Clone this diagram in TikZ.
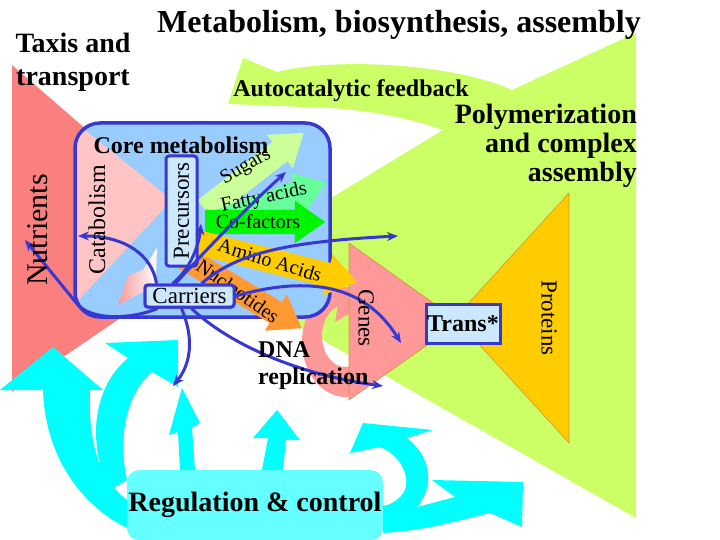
\documentclass[tikz,border=0pt]{standalone}
\usepackage{fontspec}
\setmainfont{Liberation Serif}[BoldFont={Liberation Serif Bold}, ItalicFont={Liberation Serif Italic}]
\usepackage{tikz}
\usetikzlibrary{shapes.arrows}
\usetikzlibrary{arrows.meta}

\definecolor{leaf}{RGB}{204,255,102}
\definecolor{nutred}{RGB}{250,128,128}
\definecolor{catpink}{RGB}{255,196,196}
\definecolor{corebl}{RGB}{153,204,255}
\definecolor{boxfill}{RGB}{204,232,255}
\definecolor{blueln}{RGB}{55,55,210}
\definecolor{genepink}{RGB}{255,153,153}
\definecolor{protor}{RGB}{255,204,0}
\definecolor{sugar}{RGB}{204,255,153}
\definecolor{fatty}{RGB}{102,255,153}
\definecolor{cofac}{RGB}{0,245,0}
\definecolor{amino}{RGB}{255,204,0}
\definecolor{nucl}{RGB}{255,153,51}
\definecolor{cyanar}{RGB}{0,255,255}
\definecolor{regcy}{RGB}{102,255,255}
\definecolor{edgeor}{RGB}{204,150,60}

\newcommand{\fs}[1]{\fontsize{#1}{#1}\selectfont}

\begin{document}
\begin{tikzpicture}[x=1pt,y=-1pt,
    flow/.style={draw=blueln, line width=3pt, -{Stealth[length=11pt,width=9pt]}},
    box/.style={draw=blueln, line width=3pt, fill=boxfill, rounded corners=3pt, inner sep=0pt},
    blk/.style={single arrow, single arrow head extend=9pt, single arrow tip angle=70,
                inner xsep=0pt, inner ysep=12pt, anchor=tail},
    lbl/.style={inner sep=0pt, font=\fs{#1}},
    blbl/.style={inner sep=0pt, font=\fs{#1}\bfseries}]
    % page
    \fill[white] (0,0) rectangle (720,540);
    \useasboundingbox (0,0) rectangle (720,540);

    % big shapes behind
    \fill[leaf] (243,58) -- (277,72) .. controls (330,58) and (450,62) .. (512,90)
        -- (636,33) -- (636,518) -- (206,274) -- (443,130)
        .. controls (400,115) and (360,110) .. (330,108) -- (228,104) -- cycle;
    \fill[nutred] (12,65) -- (223,248) -- (12,392) -- cycle;
    % DNA replication loop
    \begin{scope}
      \clip (280,280) rectangle (349,410);
      \fill[genepink, even odd rule] (346,342) ellipse[x radius=44, y radius=55]
                                      (345,336) ellipse[x radius=23, y radius=31];
      \fill[genepink] (338,300) -- (338,305) -- (335,322) -- (349,314) -- (349,300) -- cycle;
    \end{scope}
    \filldraw[genepink, draw=edgeor, line width=0.6pt] (349,243) -- (460,322) -- (349,400) -- cycle;
    \filldraw[protor, draw=edgeor, line width=0.6pt] (569,193) -- (569,443) -- (455,318) -- cycle;

    % core metabolism
    \fill[corebl, rounded corners=25pt] (75,123) rectangle (330,317);
    \begin{scope}
      \clip[rounded corners=25pt] (75,123) rectangle (330,317);
      \fill[catpink] (60,110) -- (172,200) -- (60,320) -- cycle;
    \end{scope}
    \shade[left color=nutred!80, right color=white] (118,305) -- (128,276) -- (143,270)
        -- (157,248) -- (155,302) -- (143,292) -- cycle;
    \draw[blueln, line width=3.5pt, rounded corners=25pt] (75,123) rectangle (330,317);

    % product arrows
    \node[blk, fill=sugar, minimum height=125, rotate=38] (sug) at (205,210) {};
    \node[blk, fill=fatty, minimum height=115, rotate=20] (fat) at (218,222) {};
    \node[blk, fill=cofac, minimum height=120] (cof) at (205,222) {};
    \node[blk, fill=nucl, minimum height=136, rotate=-31] (nuc) at (185,258) {};
    \node[blk, fill=amino, minimum height=174, rotate=-14] (ami) at (188,240) {};

    \node[lbl=20, rotate=30] (sugl) at (246,167) {Sugars};
    \node[lbl=20, rotate=12] (fatl) at (264,198) {Fatty acids};
    \node[lbl=20] (cofl) at (258,222) {Co-factors};
    \node[lbl=20, rotate=-17] (amil) at (270,260) {Amino Acids};
    \node[lbl=20, rotate=-35] (nucl) at (238,291) {Nucleotides};

    % boxes
    \node[box, rotate=90, minimum width=110, minimum height=31, font=\fs{23}] (pre) at (181.5,211) {Precursors};
    \node[box, minimum width=89, minimum height=22, font=\fs{23}] (car) at (189.5,296) {Carriers};

    % cyan regulation arrows
    \fill[cyanar] (0,390) -- (53,347) -- (103,390) -- (90,390)
        .. controls (88,445) and (100,480) .. (127,500) -- (127,528)
        .. controls (80,505) and (45,455) .. (43,390) -- cycle;
    \fill[cyanar] (105,343) -- (178,340) -- (178,387) -- (152,372)
        .. controls (125,395) and (118,440) .. (127,480) -- (110,490)
        .. controls (85,440) and (95,385) .. (128,358) -- cycle;
    \fill[cyanar] (180,470) -- (178,432) -- (169,435) -- (182,388) -- (200,423)
        -- (192,428) -- (195,470) -- cycle;
    \fill[cyanar] (262,470) -- (268,438) -- (253,438) -- (277,410) -- (300,440)
        -- (286,440) -- (283,470) -- cycle;
    \fill[cyanar] (383,533) .. controls (430,530) and (460,520) .. (490,513) -- (522,527)
        -- (523,482) -- (432,480) -- (455,497) -- (417,507)
        .. controls (432,490) and (435,460) .. (407,438) -- (433,430) -- (363,423)
        -- (350,453) -- (380,447) .. controls (400,455) and (410,475) .. (405,490)
        .. controls (400,500) and (390,505) .. (383,506) -- cycle;
    \node[fill=regcy, rounded corners=12pt, minimum width=256, minimum height=70,
          anchor=north, blbl=28] (reg) at (255,470) {Regulation \& control};

    % connectors
    \coordinate (nutT) at (25,240);
    \coordinate (catT) at (78,236);
    \coordinate (preT) at (201,224);
    \coordinate (fatT) at (286,172);
    \coordinate (polT) at (398,236);
    \coordinate (genT) at (401,343);
    \coordinate (dnaT) at (383,386);
    \coordinate (regT) at (173,386);
    \draw[flow] ([xshift=-32pt]car.south) .. controls (135,318) and (95,322) .. (78,305) -- (nutT);
    \draw[flow] ([xshift=-33pt]car.north) .. controls (152,255) and (125,236) .. (catT);
    \draw[flow] ([xshift=-17pt]car.north) .. controls (190,270) and (199,245) .. (preT);
    \draw[flow] ([xshift=-14pt]car.north) .. controls (215,240) and (255,200) .. (fatT);
    \draw[flow] ([xshift=12pt]car.north) .. controls (235,255) and (280,242) .. (polT);
    \draw[flow] (car.east) .. controls (310,275) and (365,285) .. (genT);
    \draw[flow] ([xshift=2pt]car.south) .. controls (230,345) and (300,375) .. (dnaT);
    \draw[flow] ([xshift=-8pt]car.south) .. controls (195,340) and (190,365) .. (regT);
    \node[box, minimum width=89, minimum height=22, font=\fs{23}] at (car) {Carriers};

    \node[box, minimum width=74, minimum height=39, rounded corners=0pt, font=\fs{24}\bfseries] (trans) at (463,323.5) {Trans*};

    % titles and labels
    \node[blbl=32] (ttl) at (399,25) {Metabolism, biosynthesis, assembly};
    \node[align=center, inner sep=0pt, font=\fontsize{28}{33}\selectfont\bfseries] (taxis) at (73,62) {Taxis and\\transport};
    \node[blbl=24] (auto) at (351,91) {Autocatalytic feedback};
    \node[align=right, anchor=north east, inner sep=0pt, font=\fontsize{28}{29}\selectfont\bfseries] (poly) at (637,104) {Polymerization\\and complex\\assembly};
    \node[blbl=24] (core) at (181,145) {Core metabolism};
    \node[lbl=30, rotate=90] (nut) at (38,230) {Nutrients};
    \node[lbl=24, rotate=90] (cat) at (97,220) {Catabolism};
    \node[lbl=23, rotate=-90] (gen) at (366,318) {Genes};
    \node[lbl=23, rotate=-90] (prot) at (549,318) {Proteins};
    \node[align=left, anchor=north west, inner sep=0pt, font=\fontsize{24}{27}\selectfont\bfseries] (dna) at (258,341) {DNA\\replication};
\end{tikzpicture}
\end{document}
